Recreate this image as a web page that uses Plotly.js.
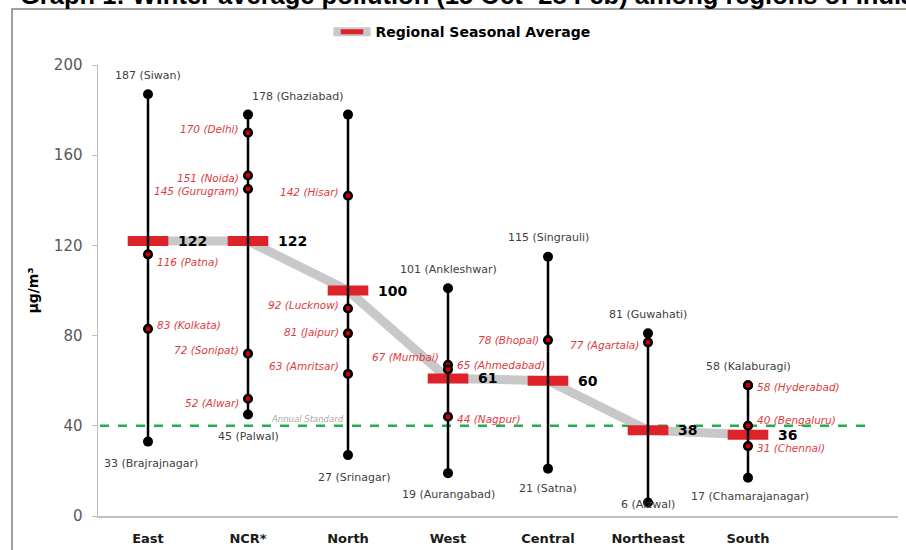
<!DOCTYPE html>
<html>
<head>
<meta charset="utf-8">
<script src="https://cdn.plot.ly/plotly-3.0.1.min.js"></script>
<style>html,body{margin:0;padding:0;background:#fff;overflow:hidden}#chart{width:906px;height:550px}</style>
</head>
<body>
<div id="chart"></div>
<script>
// ---- data ----
const regions = ['East', 'NCR*', 'North', 'West', 'Central', 'Northeast', 'South'];
const regionalAverage = [122, 122, 100, 61, 60, 38, 36];
const maxValue = [187, 178, 178, 101, 115, 81, 58];
const maxCity = ['Siwan', 'Ghaziabad', '', 'Ankleshwar', 'Singrauli', 'Guwahati', 'Kalaburagi'];
const minValue = [33, 45, 27, 19, 21, 6, 17];
const minCity = ['Brajrajnagar', 'Palwal', 'Srinagar', 'Aurangabad', 'Satna', 'Aizwal', 'Chamarajanagar'];
const cityRegion = ['East', 'East', 'NCR*', 'NCR*', 'NCR*', 'NCR*', 'NCR*', 'North', 'North', 'North', 'North',
  'West', 'West', 'West', 'Central', 'Northeast', 'South', 'South', 'South'];
const cityValue = [116, 83, 170, 151, 145, 72, 52, 142, 92, 81, 63, 67, 65, 44, 78, 77, 58, 40, 31];
const cityName = ['Patna', 'Kolkata', 'Delhi', 'Noida', 'Gurugram', 'Sonipat', 'Alwar', 'Hisar', 'Lucknow',
  'Jaipur', 'Amritsar', 'Mumbai', 'Ahmedabad', 'Nagpur', 'Bhopal', 'Agartala', 'Hyderabad', 'Bengaluru', 'Chennai'];
const annualStandard = 40;

// ---- label placement (style only) ----
const cityPlace = {
  Patna: ['R', -8], Kolkata: ['R', 4], Delhi: ['L', 4], Noida: ['L', -2], Gurugram: ['L', -2],
  Sonipat: ['L', 4], Alwar: ['L', -4], Hisar: ['L', 4], Lucknow: ['L', 4], Jaipur: ['L', 1],
  Amritsar: ['L', 8], Mumbai: ['L', 8], Ahmedabad: ['R', 4], Nagpur: ['R', -2], Bhopal: ['L', 0],
  Agartala: ['L', -3], Hyderabad: ['R', -2], Bengaluru: ['R', 6], Chennai: ['R', -2]
};
const maxShift = {Ghaziabad: [50, 18]};
const minShift = {Brajrajnagar: [3, -22], Srinagar: [6, -22], Aurangabad: [0, -21], Satna: [0, -20],
  Aizwal: [0, -2], Chamarajanagar: [2, -19]};

const FONT = 'DejaVu Sans, sans-serif';
const RED = '#dc3c41';
const GREY = '#404040';

// vertical range lines
const rx = [], ry = [];
regions.forEach((r, i) => { rx.push(r, r, null); ry.push(minValue[i], maxValue[i], null); });

const traces = [
  {
    type: 'scatter', mode: 'lines+markers', name: 'Regional Seasonal Average',
    x: regions, y: regionalAverage,
    line: {color: '#c8c8c8', width: 9},
    marker: {symbol: 'line-ew', size: 29, line: {color: '#dd2329', width: 10}},
    hoverinfo: 'skip'
  },
  {
    type: 'scatter', mode: 'lines+markers', showlegend: false,
    x: rx, y: ry, line: {color: '#000', width: 2.5},
    marker: {color: '#000', size: 10}, hoverinfo: 'skip'
  },
  {
    type: 'scatter', mode: 'markers', showlegend: false,
    x: cityRegion, y: cityValue,
    marker: {color: '#d00000', size: 7.5, line: {color: '#000', width: 2.6}}, hoverinfo: 'skip'
  }
];

const ann = [];
// title (clipped at top, as in the source image)
ann.push({xref: 'paper', yref: 'paper', x: -0.1, y: 1.156, xanchor: 'left', yanchor: 'middle',
  text: '<b>Graph 1: Winter average pollution (15 Oct- 28 Feb) among regions of India</b>',
  showarrow: false, font: {family: 'Liberation Sans, Arial, sans-serif', size: 25.5, color: '#000'}});
regions.forEach((r, i) => {
  if (maxCity[i]) {
    const s = maxShift[maxCity[i]] || [0, 19];
    ann.push({x: r, y: maxValue[i], xref: 'x', yref: 'y', text: maxValue[i] + ' (' + maxCity[i] + ')',
      showarrow: false, xanchor: 'center', yanchor: 'middle', xshift: s[0], yshift: s[1],
      font: {family: FONT, size: 11, color: GREY}});
  }
  const m = minShift[minCity[i]] || [0, -22];
  ann.push({x: r, y: minValue[i], xref: 'x', yref: 'y', text: minValue[i] + ' (' + minCity[i] + ')',
    showarrow: false, xanchor: 'center', yanchor: 'middle', xshift: m[0], yshift: m[1],
    font: {family: FONT, size: 11, color: GREY}});
  ann.push({x: r, y: regionalAverage[i], xref: 'x', yref: 'y', text: '<b>' + regionalAverage[i] + '</b>',
    showarrow: false, xanchor: 'left', yanchor: 'middle', xshift: 28,
    font: {family: FONT, size: 14, color: '#000'}});
});
cityName.forEach((c, i) => {
  const p = cityPlace[c];
  ann.push({x: cityRegion[i], y: cityValue[i], xref: 'x', yref: 'y',
    text: '<i>' + cityValue[i] + ' (' + c + ')</i>', showarrow: false,
    xanchor: p[0] === 'L' ? 'right' : 'left', yanchor: 'middle',
    xshift: p[0] === 'L' ? -7 : 7, yshift: p[1],
    font: {family: FONT, size: 10.5, color: RED}});
});
ann.push({x: 'North', y: annualStandard, xref: 'x', yref: 'y', text: '<i>Annual Standard</i>',
  showarrow: false, xanchor: 'right', yanchor: 'bottom', xshift: -2, yshift: 0,
  font: {family: FONT, size: 8.5, color: '#a6a6a6'}});

const layout = {
  width: 906, height: 550,
  margin: {l: 98, r: 8, t: 65, b: 34},
  paper_bgcolor: '#fff', plot_bgcolor: 'rgba(0,0,0,0)',
  font: {family: FONT},
  showlegend: true,
  legend: {orientation: 'h', x: 0.455, xanchor: 'center', y: 1.073, yanchor: 'middle',
    font: {family: FONT, size: 14, color: '#000', weight: 'bold'}, itemwidth: 37, bgcolor: 'rgba(0,0,0,0)'},
  xaxis: {type: 'category', categoryarray: regions, range: [-0.5, 7.5], showgrid: false, zeroline: false,
    showline: true, linecolor: '#bfbfbf', linewidth: 1.5, ticks: '', ticklabelstandoff: 10,
    tickfont: {family: FONT, size: 13, color: '#1a1a1a', weight: 'bold'}, fixedrange: true},
  yaxis: {range: [0, 200], dtick: 40, showgrid: false, zeroline: false, showline: true,
    linecolor: '#bfbfbf', linewidth: 1.5, ticks: 'outside', ticklen: 5, tickcolor: '#bfbfbf',
    ticklabelstandoff: 6, tickfont: {family: FONT, size: 15, color: '#595959'},
    title: {text: '<b>µg/m³</b>', standoff: 12, font: {family: FONT, size: 14, color: '#000'}}},
  shapes: [
    {type: 'rect', xref: 'paper', yref: 'paper', x0: -0.1075, x1: 2, y0: -1, y1: 1.1242,
      line: {color: '#808080', width: 1.5}, layer: 'below'},
    {type: 'line', xref: 'x', yref: 'y', x0: -0.48, x1: 7.17, y0: annualStandard, y1: annualStandard,
      line: {color: '#1fb04e', width: 2.5, dash: 'dash'}, layer: 'below'}
  ],
  annotations: ann
};

Plotly.newPlot('chart', traces, layout, {displayModeBar: false, staticPlot: true});
</script>
</body>
</html>
